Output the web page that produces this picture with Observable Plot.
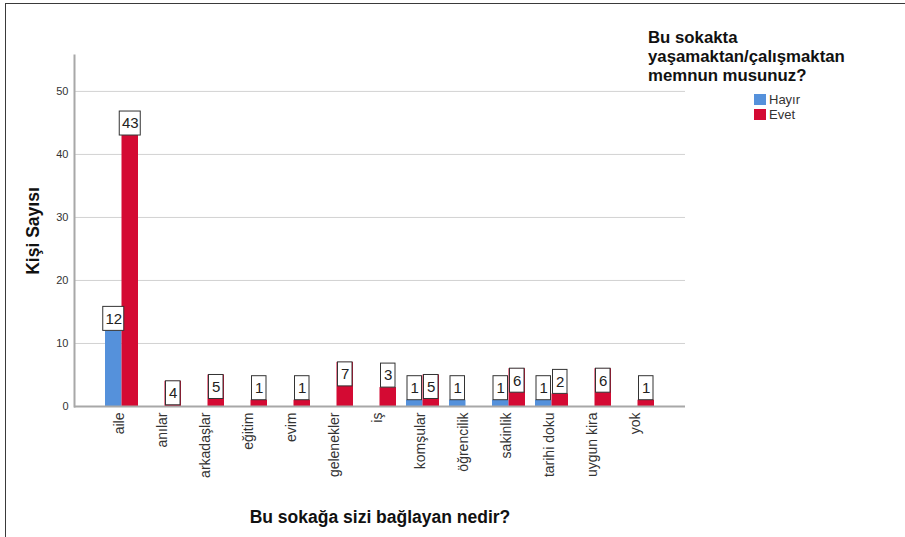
<!DOCTYPE html>
<html>
<head>
<meta charset="utf-8">
<script src="https://cdn.jsdelivr.net/npm/d3@7"></script>
<script src="https://cdn.jsdelivr.net/npm/@observablehq/plot@0.6"></script>
<style>
  html, body { margin: 0; padding: 0; background: #fff; }
  #wrap { position: relative; width: 905px; height: 537px; overflow: hidden; font-family: "Liberation Sans", Arial, sans-serif; }
  #chart { position: absolute; left: 0; top: 0; }
  .frameBox { position: absolute; left: 5px; top: 3px; width: 1200px; height: 1200px; border: 1.5px solid #3a3a3a; pointer-events: none; }
  .title { position: absolute; font-weight: bold; font-size: 17.5px; color: #111; white-space: nowrap; }
  .legend-item { position: absolute; font-size: 13px; color: #333; display: flex; align-items: center; white-space: nowrap; }
  .legend-item span.sw { display: inline-block; width: 12px; height: 11px; margin-right: 3px; }
</style>
</head>
<body>
<div id="wrap">
  <div id="chart"></div>
  <div class="frameBox"></div>
  <div class="title" id="ytitle" style="left:33px;top:231px;transform:translate(-50%,-50%) rotate(-90deg);"></div>
  <div class="title" id="xtitle" style="left:380px;top:517px;transform:translate(-50%,-50%);"></div>
  <div class="title" id="ltitle" style="left:648px;top:28px;line-height:19px;font-size:16.8px;"></div>
  <div id="legend"></div>
</div>
<script>
// ---- data ----
const categories = ["aile", "anılar", "arkadaşlar", "eğitim", "evim", "gelenekler", "iş", "komşular", "öğrencilik", "sakinlik", "tarihi doku", "uygun kira", "yok"];
const groups = ["Hayır", "Evet"];
const hayirValues = [12, null, null, null, null, null, null, 1, 1, 1, 1, null, null];
const evetValues = [43, 4, 5, 1, 1, 7, 3, 5, null, 6, 2, 6, 1];
const yTicks = [0, 10, 20, 30, 40, 50];
const xTitle = "Bu sokağa sizi bağlayan nedir?";
const yTitle = "Kişi Sayısı";
const legendTitle = ["Bu sokakta", "yaşamaktan/çalışmaktan", "memnun musunuz?"];

// ---- style ----
const colors = {"Hayır": "#5591db", "Evet": "#d40a33"};
const band = 33, half = band / 2;

const seriesValues = [hayirValues, evetValues];
const rows = groups.flatMap((g, gi) =>
  categories.map((c, i) => ({cat: c, group: g, gi, value: seriesValues[gi][i]}))
).filter(d => d.value != null);

const labelMarks = rows.flatMap(r => {
  const w = r.value >= 10 ? 21 : 14.5;
  const c = r.gi * half + half / 2;
  const inside = r.value >= 4 && r.value < 10;
  return [
    Plot.barY([r], {
      x: "cat", y1: "value", y2: "value",
      fill: "white", stroke: "#333", strokeWidth: 1,
      insetLeft: c - w / 2, insetRight: band - c - w / 2,
      insetTop: inside ? 0 : -24, insetBottom: inside ? -24 : 0
    }),
    Plot.text([r], {
      x: "cat", y: "value", text: d => String(d.value),
      dx: c - half, dy: inside ? 12 : -12,
      fontSize: 15, fill: "#222"
    })
  ];
});

const chart = Plot.plot({
  width: 905,
  height: 537,
  marginLeft: 74,
  marginRight: 220,
  marginTop: 55,
  marginBottom: 131,
  style: {fontFamily: "'Liberation Sans', Arial, sans-serif", background: "transparent", color: "#333"},
  x: {domain: categories, type: "band", paddingInner: 0.233, paddingOuter: 0.72, label: null},
  y: {domain: [0, 55.7], label: null},
  marks: [
    Plot.gridY(yTicks, {stroke: "#d2d2d2", strokeOpacity: 1, strokeWidth: 1}),
    Plot.axisY(yTicks, {tickSize: 0, tickPadding: 6, fontSize: 11, fill: "#333", label: null}),
    Plot.axisX({tickSize: 0, tickPadding: 6, tickRotate: -90, fontSize: 14, fill: "#333", label: null, dx: -2}),
    Plot.barY(rows.filter(d => d.group === "Hayır"), {x: "cat", y: "value", fill: colors["Hayır"], insetRight: half}),
    Plot.barY(rows.filter(d => d.group === "Evet"), {x: "cat", y: "value", fill: colors["Evet"], insetLeft: half}),
    Plot.ruleY([0], {stroke: "#a8a8a8", strokeWidth: 2}),
    Plot.frame({anchor: "left", stroke: "#a8a8a8", strokeWidth: 2}),
    ...labelMarks
  ]
});
document.getElementById("chart").appendChild(chart);

document.getElementById("xtitle").textContent = xTitle;
document.getElementById("ytitle").textContent = yTitle;
document.getElementById("ltitle").innerHTML = legendTitle.map(t => t.replace(/&/g, "&amp;")).join("<br>");
const legend = document.getElementById("legend");
groups.forEach((g, i) => {
  const item = document.createElement("div");
  item.className = "legend-item";
  item.style.left = "754px";
  item.style.top = (92 + i * 15) + "px";
  const sw = document.createElement("span");
  sw.className = "sw";
  sw.style.background = colors[g];
  item.appendChild(sw);
  item.appendChild(document.createTextNode(g));
  legend.appendChild(item);
});
</script>
</body>
</html>
